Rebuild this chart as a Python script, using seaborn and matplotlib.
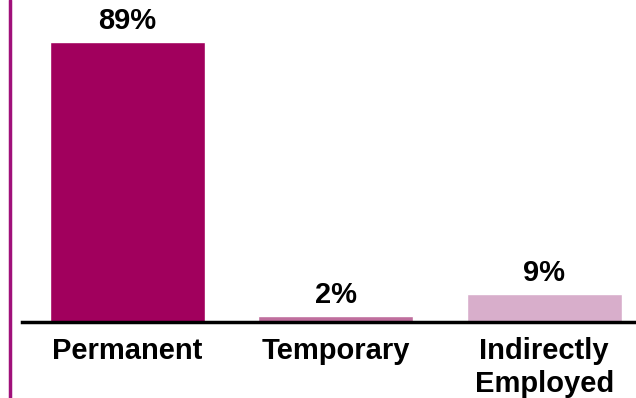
import matplotlib
matplotlib.use("Agg")
import matplotlib.pyplot as plt
import seaborn as sns
import pandas as pd
from matplotlib.lines import Line2D

categories = ["Permanent", "Temporary", "Indirectly\nEmployed"]
values = [89, 2, 9]
labels = ["89%", "2%", "9%"]
colors = ["#A1005D", "#BF6E9D", "#D8AECB"]

sns.set_style("white")
plt.rcParams['font.family'] = ['Liberation Sans', 'DejaVu Sans']

df = pd.DataFrame({"cat": categories, "val": values})

fig = plt.figure(figsize=(6.36, 3.98), dpi=100)
ax = fig.add_axes([22/636, 76/398, 614/636, 322/398])
sns.barplot(data=df, x="cat", y="val", hue="cat", palette=colors,
            width=0.743, legend=False, ax=ax, saturation=1)

ax.set_xlim(-0.506, 2.44)
ax.set_ylim(0, 102.4)
ax.set_xlabel("")
ax.set_ylabel("")
ax.set_yticks([])
for s in ["top", "right", "left"]:
    ax.spines[s].set_visible(False)
ax.spines["bottom"].set_color("black")
ax.spines["bottom"].set_linewidth(2.5)
ax.tick_params(axis="x", length=0, pad=11)
for t in ax.get_xticklabels():
    t.set_fontsize(21)
    t.set_fontweight("bold")
    t.set_color("black")
    t.set_linespacing(1.22)

for p, lab in zip(ax.patches, labels):
    ax.annotate(lab, (p.get_x() + p.get_width()/2, p.get_height()),
                xytext=(0, 5), textcoords="offset points",
                ha="center", va="bottom", fontsize=21, fontweight="bold",
                color="black")

fig.add_artist(Line2D([9.5/636, 9.5/636], [0, 1], transform=fig.transFigure,
                      color="#A0107A", linewidth=2.5))

fig.savefig("out.png", dpi=100)
